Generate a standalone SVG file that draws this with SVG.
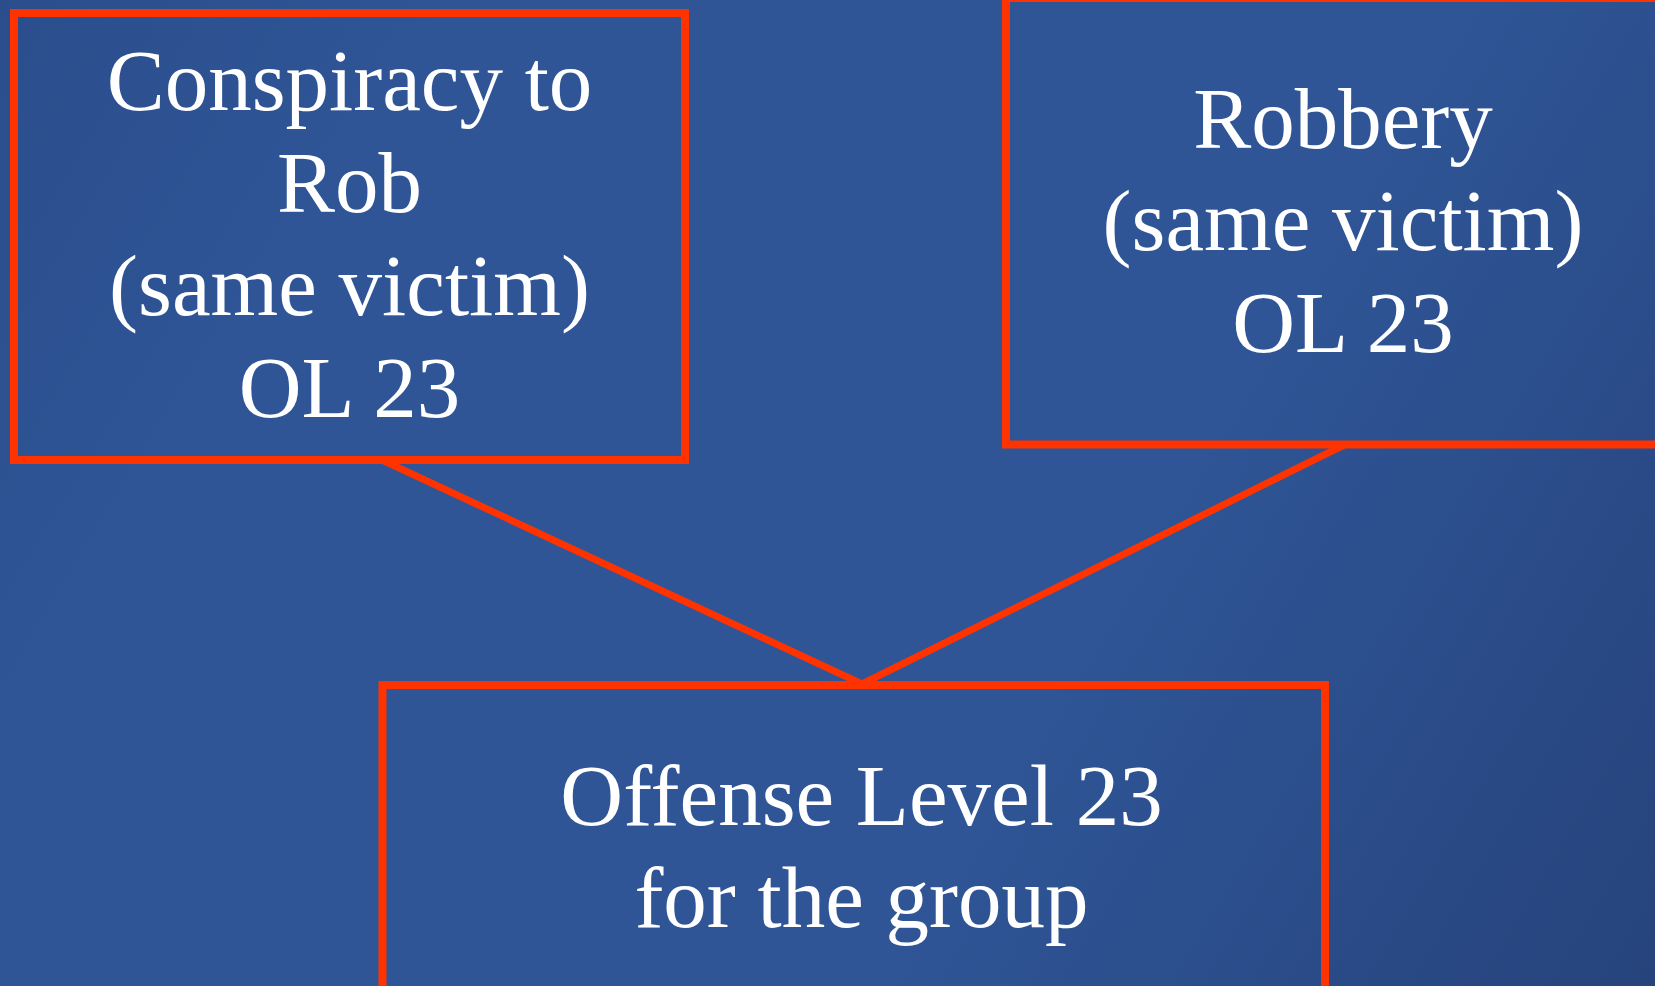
<svg xmlns="http://www.w3.org/2000/svg" width="1655" height="986" viewBox="0 0 1655 986">
<defs>
<linearGradient id="bg" x1="0" y1="0" x2="1655" y2="986" gradientUnits="userSpaceOnUse">
<stop offset="0%" stop-color="#2b4d8c"/>
<stop offset="20%" stop-color="#2f5596"/>
<stop offset="65%" stop-color="#2f5596"/>
<stop offset="100%" stop-color="#26437c"/>
</linearGradient>
</defs>
<style>
.box{fill:none;stroke:#ff3300;stroke-width:8}
.conn{stroke:#ff3300;stroke-width:7;fill:none}
.t{font-family:"Liberation Serif","Times New Roman",serif;font-size:87px;fill:#ffffff;text-anchor:middle}
</style>
<rect x="0" y="0" width="1655" height="986" fill="url(#bg)"/>
<g id="connectors">
<line class="conn" x1="382" y1="460" x2="862" y2="684"/>
<line class="conn" x1="1344" y1="445" x2="862" y2="684"/>
</g>
<g id="node-conspiracy">
<rect class="box" x="14" y="13" width="671" height="447"/>
<text class="t" x="349.5" y="109.5">Conspiracy to</text>
<text class="t" x="349.5" y="212">Rob</text>
<text class="t" x="349.5" y="314.5">(same victim)</text>
<text class="t" x="349.5" y="417">OL 23</text>
</g>
<g id="node-robbery">
<rect class="box" x="1006" y="-2" width="700" height="446.5"/>
<text class="t" x="1343" y="147.5">Robbery</text>
<text class="t" x="1343" y="249.5">(same victim)</text>
<text class="t" x="1343" y="352">OL 23</text>
</g>
<g id="node-group">
<rect class="box" x="382.5" y="685" width="942.5" height="400"/>
<text class="t" x="861.5" y="825">Offense Level 23</text>
<text class="t" x="861.5" y="927">for the group</text>
</g>
</svg>
